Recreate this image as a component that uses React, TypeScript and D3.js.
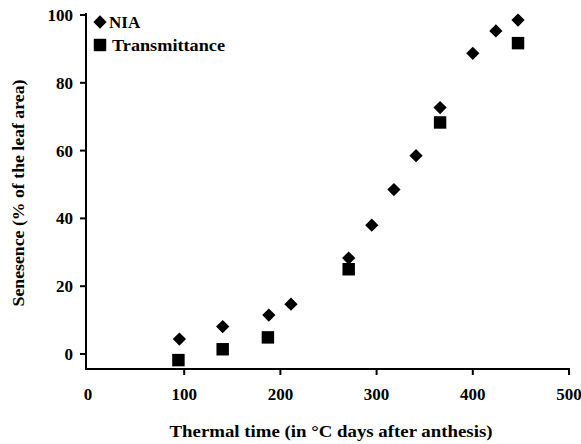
import React from "react";
import * as d3 from "d3";

const niaX = [95, 140, 188, 211, 271, 295, 318, 341, 366, 400, 424, 447];
const niaY = [4.4, 8.1, 11.5, 14.7, 28.3, 38.0, 48.5, 58.5, 72.7, 88.7, 95.3, 98.5];
const trX = [94, 140, 187, 271, 366, 447];
const trY = [-1.8, 1.4, 4.9, 25.0, 68.3, 91.7];
const xTicks = [0, 100, 200, 300, 400, 500];
const yTicks = [0, 20, 40, 60, 80, 100];

const W = 581;
const H = 444;
const FONT = "'Liberation Serif', 'Times New Roman', serif";

export default function App() {
  const x = d3.scaleLinear().domain([0, 500]).range([88, 569]);
  const y = d3.scaleLinear().domain([0, 100]).range([354, 15]);
  const diamond = d3.symbol().type(d3.symbolSquare).size(88)();
  const square = d3.symbol().type(d3.symbolSquare).size(155)();
  const axisX = 86;
  const axisY = 369;

  return (
    <svg
      width={W}
      height={H}
      style={{ position: "absolute", left: 0, top: 0, background: "#fff" }}
      fontFamily={FONT}
    >
      <rect width={W} height={H} fill="#fff" />
      {/* axes */}
      <line x1={axisX} y1={13} x2={axisX} y2={axisY + 1} stroke="#000" strokeWidth={2} />
      <line x1={axisX - 1} y1={axisY} x2={x(500) + 1} y2={axisY} stroke="#000" strokeWidth={2} />
      {yTicks.map((t) => (
        <g key={"y" + t}>
          <line x1={axisX - 6} x2={axisX} y1={y(t)} y2={y(t)} stroke="#000" strokeWidth={2} />
          <text x={73} y={y(t)} dy="0.35em" textAnchor="end" fontSize={17} fontWeight="bold">
            {t}
          </text>
        </g>
      ))}
      {xTicks.map((t) => (
        <g key={"x" + t}>
          {t > 0 && (
            <line x1={x(t)} x2={x(t)} y1={axisY} y2={axisY + 6} stroke="#000" strokeWidth={2} />
          )}
          <text x={x(t)} y={400} textAnchor="middle" fontSize={17} fontWeight="bold">
            {t}
          </text>
        </g>
      ))}
      {/* axis titles */}
      <text
        x={331}
        y={437}
        textAnchor="middle"
        fontSize={17}
        fontWeight="bold"
        textLength={323}
        lengthAdjust="spacingAndGlyphs"
      >
        Thermal time (in °C days after anthesis)
      </text>
      <text
        transform={`translate(24,193) rotate(-90)`}
        textAnchor="middle"
        fontSize={17}
        fontWeight="bold"
        textLength={227}
        lengthAdjust="spacingAndGlyphs"
      >
        Senesence (% of the leaf area)
      </text>
      {/* data */}
      {trX.map((v, i) => (
        <path key={"t" + i} d={square} transform={`translate(${x(v)},${y(trY[i])})`} fill="#000" />
      ))}
      {niaX.map((v, i) => (
        <path
          key={"n" + i}
          d={diamond}
          transform={`translate(${x(v)},${y(niaY[i])}) rotate(45)`}
          fill="#000"
        />
      ))}
      {/* legend */}
      <path d={diamond} transform="translate(100,22) rotate(45)" fill="#000" />
      <text x={109} y={28} fontSize={17} fontWeight="bold">NIA</text>
      <path d={square} transform="translate(100,45)" fill="#000" />
      <text x={112} y={51} fontSize={17} fontWeight="bold" textLength={113} lengthAdjust="spacingAndGlyphs">
        Transmittance
      </text>
    </svg>
  );
}
